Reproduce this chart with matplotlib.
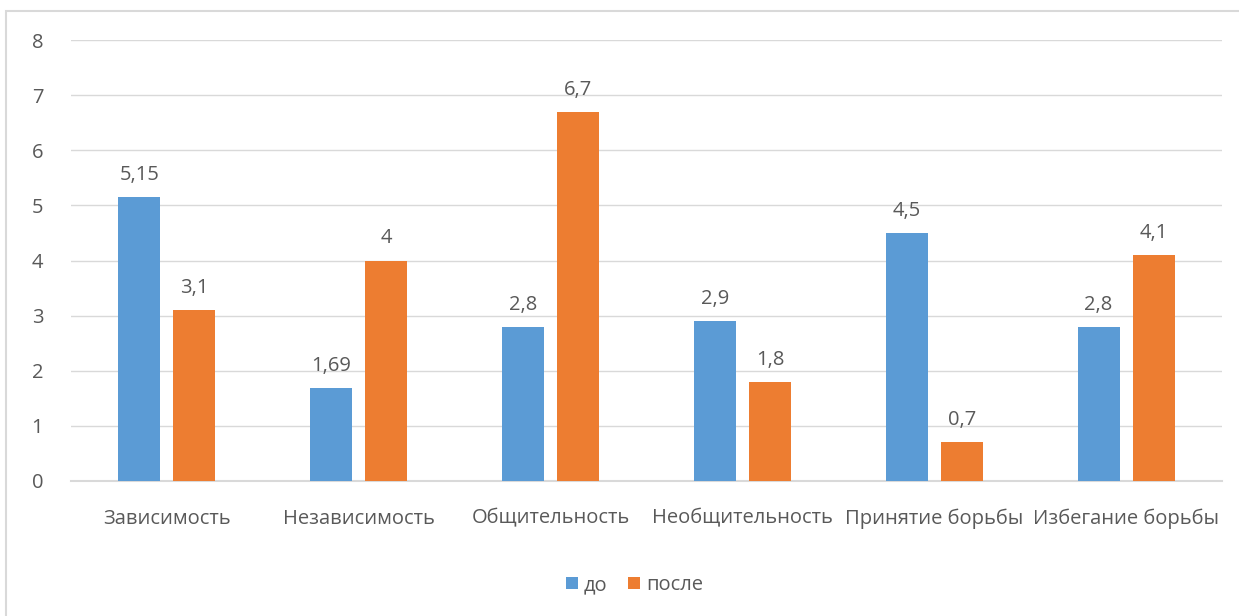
import matplotlib.pyplot as plt
import matplotlib.patches as patches
import numpy as np

# Chart data
categories = ['Зависимость', 'Независимость', 'Общительность',
              'Необщительность', 'Принятие борьбы', 'Избегание борьбы']
before = [5.15, 1.69, 2.8, 2.9, 4.5, 2.8]
after = [3.1, 4, 6.7, 1.8, 0.7, 4.1]
series_names = ['до', 'после']
y_ticks = [0, 1, 2, 3, 4, 5, 6, 7, 8]

blue = '#5B9BD5'
orange = '#ED7D31'
text_color = '#595959'
grid_color = '#D9D9D9'
fsize = 14.5

plt.rcParams['font.family'] = ['Open Sans', 'DejaVu Sans']

fig = plt.figure(figsize=(12.39, 6.16), dpi=100)
ax = fig.add_axes([0.0573, 0.2192, 0.9290, 0.7158])

# Chart border
border = patches.Rectangle((6 / 1239, -0.05), 1.2, 1 - 11 / 616 + 0.05,
                           transform=fig.transFigure, fill=False,
                           edgecolor='#D9D9D9', linewidth=1.5)
fig.patches.append(border)

x = np.arange(len(categories))
width = 0.219
offset = 0.1435

bars_before = ax.bar(x - offset, before, width, color=blue, label=series_names[0], zorder=3)
bars_after = ax.bar(x + offset, after, width, color=orange, label=series_names[1], zorder=3)

def fmt(v):
    s = ('%g' % v).replace('.', ',')
    return s

for bars, vals in ((bars_before, before), (bars_after, after)):
    for b, v in zip(bars, vals):
        ax.text(b.get_x() + b.get_width() / 2, v + 0.31, fmt(v),
                ha='center', va='baseline', fontsize=fsize, color=text_color)

ax.set_xlim(-0.5, len(categories) - 0.5)
ax.set_ylim(0, 8)
ax.set_yticks(y_ticks)
ax.set_yticklabels([str(t) for t in y_ticks])
ax.set_xticks(x)
ax.set_xticklabels(categories)

ax.tick_params(axis='both', length=0, labelsize=fsize, colors=text_color)
ax.tick_params(axis='y', pad=20)
ax.tick_params(axis='x', pad=20)

ax.yaxis.grid(True, color=grid_color, linewidth=1)
ax.set_axisbelow(True)
for side in ('top', 'right', 'left'):
    ax.spines[side].set_visible(False)
ax.spines['bottom'].set_color(grid_color)
ax.spines['bottom'].set_linewidth(1.5)

leg = fig.legend(loc='center', bbox_to_anchor=(0.512, 0.05), ncol=2, frameon=False,
                 fontsize=fsize, handlelength=0.6, handleheight=0.6,
                 handletextpad=0.3, columnspacing=1.0)
for t in leg.get_texts():
    t.set_color(text_color)

fig.savefig('out.png', dpi=100)
